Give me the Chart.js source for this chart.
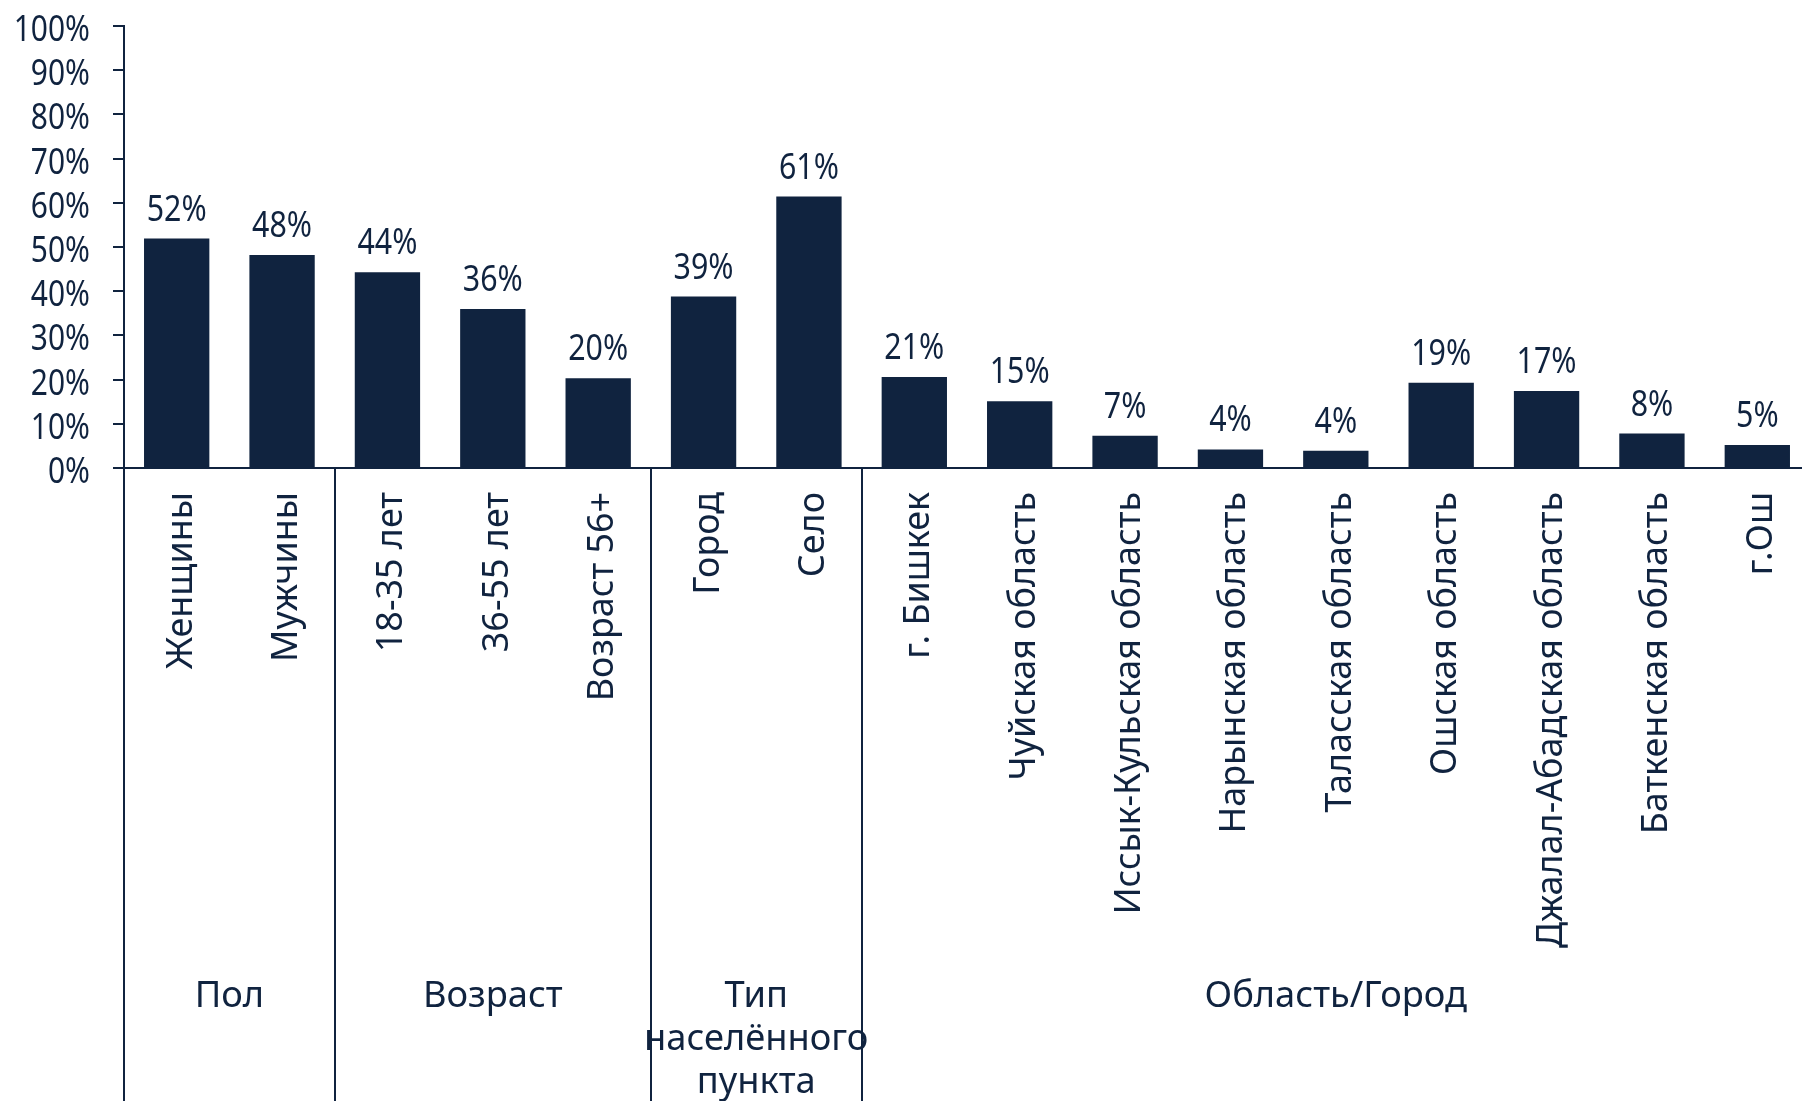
<!DOCTYPE html>
<html>
<head>
<meta charset="utf-8">
<script src="https://cdn.jsdelivr.net/npm/chart.js@4.4.1/dist/chart.umd.min.js"></script>
<style>
  html, body { margin: 0; padding: 0; background: #fff; overflow: hidden; }
  #wrap { width: 1820px; height: 1101px; position: relative; }
</style>
</head>
<body>
<div id="wrap"><canvas id="barChart"></canvas></div>
<script>
const categories = [
    "Женщины", "Мужчины",
    "18-35 лет", "36-55 лет", "Возраст 56+",
    "Город", "Село",
    "г. Бишкек", "Чуйская область", "Иссык-Кульская область", "Нарынская область",
    "Таласская область", "Ошская область", "Джалал-Абадская область", "Баткенская область", "г.Ош"
];
const values = [51.9, 48.2, 44.3, 36.0, 20.3, 38.8, 61.4, 20.6, 15.1, 7.3, 4.2, 3.9, 19.3, 17.4, 7.8, 5.2];
const groupNames = [["Пол"], ["Возраст"], ["Тип", "населённого", "пункта"], ["Область/Город"]];
const groupSizes = [2, 3, 2, 9];
const yTickStep = 10;

const NAVY = "#10233f";
const FONT = '37px "Noto Sans", sans-serif';

// the original font is a narrow one, so text is squeezed along its run
function narrowText(ctx, text, x, y, angle, squeeze, align) {
    ctx.save();
    ctx.translate(x, y);
    ctx.rotate(angle);
    ctx.scale(squeeze, 1);
    ctx.textAlign = align;
    ctx.fillText(text, 0, 0);
    ctx.restore();
}

// tick labels, value labels, group separators and group names
const textLayer = {
    id: "textLayer",
    afterDatasetsDraw(chart) {
        const { ctx } = chart;
        const meta = chart.getDatasetMeta(0);
        ctx.save();
        ctx.fillStyle = NAVY;
        ctx.font = FONT;
        ctx.textBaseline = "alphabetic";
        meta.data.forEach((bar, i) => {
            narrowText(ctx, Math.round(values[i]) + "%", bar.x, bar.y - 18, 0, 0.82, "center");
        });
        ctx.restore();
    },
    afterDraw(chart) {
        const { ctx, chartArea } = chart;
        const x = chart.scales.x;
        const y = chart.scales.y;
        const half = (x.getPixelForValue(1) - x.getPixelForValue(0)) / 2;
        const bottom = chart.height;
        ctx.save();
        ctx.fillStyle = NAVY;
        ctx.font = FONT;
        ctx.textBaseline = "alphabetic";

        // y tick labels
        y.ticks.forEach((t, i) => {
            narrowText(ctx, t.value + "%", chartArea.left - 34, y.getPixelForTick(i) + 15, 0, 0.81, "right");
        });

        // category labels, reading bottom to top
        x.ticks.forEach((t, i) => {
            narrowText(ctx, categories[i], x.getPixelForTick(i) + 15, chartArea.bottom + 24, -Math.PI / 2, 0.97, "right");
        });

        // separators
        ctx.strokeStyle = NAVY;
        ctx.lineWidth = 2;
        ctx.beginPath();
        ctx.moveTo(chartArea.left, chartArea.bottom);
        ctx.lineTo(chartArea.left, bottom);
        ctx.stroke();

        let start = 0;
        groupSizes.forEach((n, g) => {
            const left = x.getPixelForValue(start) - half;
            const right = x.getPixelForValue(start + n - 1) + half;
            const r = Math.round(right);
            ctx.beginPath();
            ctx.moveTo(r, chartArea.bottom);
            ctx.lineTo(r, bottom);
            ctx.stroke();
            groupNames[g].forEach((line, k) => {
                narrowText(ctx, line, (left + right) / 2, chartArea.bottom + 539 + k * 43, 0, 0.98, "center");
            });
            start += n;
        });
        ctx.restore();
    },
};

new Chart(document.getElementById("barChart"), {
    type: "bar",
    data: {
        labels: categories,
        datasets: [
            {
                data: values,
                backgroundColor: NAVY,
                borderWidth: 0,
                barPercentage: 0.62,
                categoryPercentage: 1,
            },
        ],
    },
    options: {
        responsive: true,
        maintainAspectRatio: false,
        animation: false,
        layout: {
            padding: { top: 26, right: 10, left: 0, bottom: 0 },
        },
        scales: {
            x: {
                offset: true,
                grid: { display: false },
                border: { display: true, color: NAVY, width: 2 },
                ticks: { display: false, autoSkip: false },
                afterFit(s) { s.height = 633; },
            },
            y: {
                min: 0,
                max: 100,
                ticks: { display: false, autoSkip: false, stepSize: yTickStep },
                grid: {
                    drawOnChartArea: false,
                    drawTicks: true,
                    tickLength: 11,
                    color: NAVY,
                    lineWidth: 2,
                },
                border: { display: true, color: NAVY, width: 2 },
                afterFit(s) { s.width = 124; },
            },
        },
        plugins: {
            legend: { display: false },
            tooltip: { enabled: false },
        },
    },
    plugins: [textLayer],
});
</script>
</body>
</html>
